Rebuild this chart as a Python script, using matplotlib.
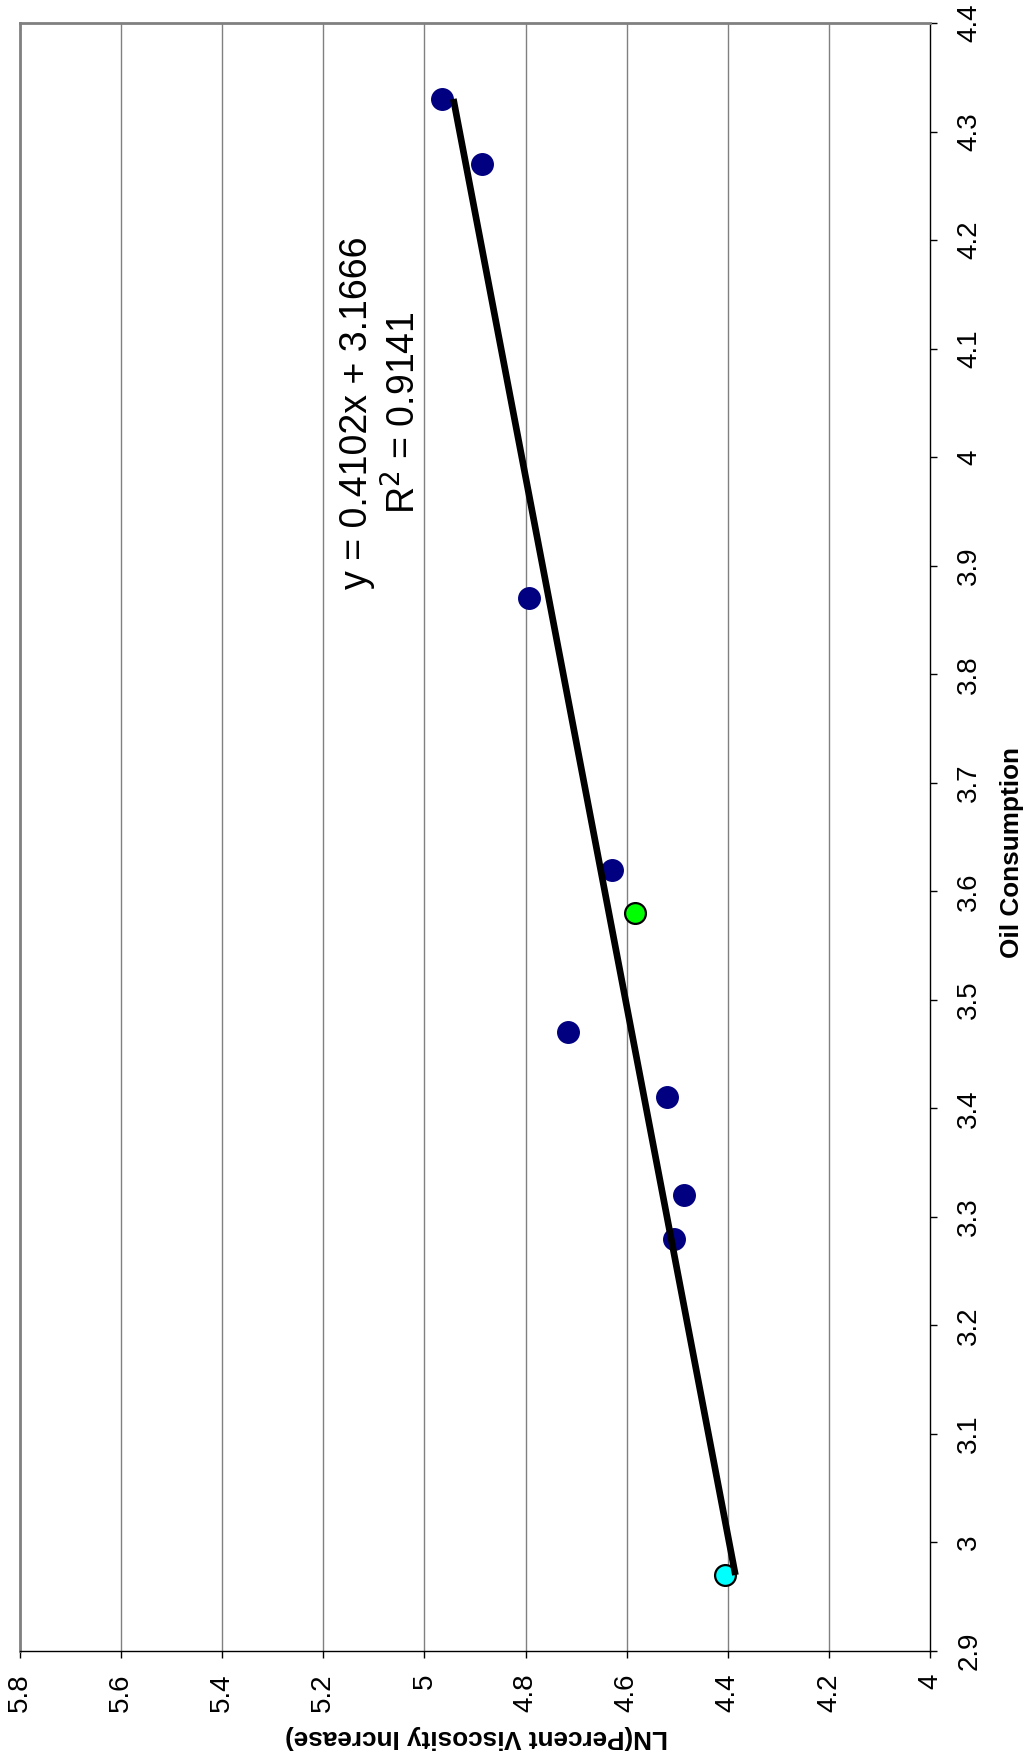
import matplotlib
matplotlib.use("Agg")
import matplotlib.pyplot as plt
import numpy as np

plt.rcParams['font.family'] = ['Liberation Sans', 'DejaVu Sans']

# oil consumption vs LN(percent viscosity increase)
oil = [4.33, 4.27, 3.87, 3.62, 3.47, 3.41, 3.32, 3.28]
ln_visc = [4.965, 4.887, 4.794, 4.630, 4.716, 4.521, 4.487, 4.507]

# the two highlighted runs
oil_low, ln_low = 2.97, 4.405
oil_mid, ln_mid = 3.58, 4.583

# linear fit
slope, intercept = 0.4102, 3.1666
r2 = 0.9141

ln_ticks = [4, 4.2, 4.4, 4.6, 4.8, 5, 5.2, 5.4, 5.6, 5.8]
oil_ticks = [2.9, 3, 3.1, 3.2, 3.3, 3.4, 3.5, 3.6, 3.7, 3.8, 3.9, 4, 4.1, 4.2, 4.3, 4.4]

W, H = 1028, 1759
fig = plt.figure(figsize=(W / 100, H / 100), dpi=100)
ax = fig.add_axes([20 / W, 1 - 1651 / H, 910 / W, 1628 / H])

# chart is laid on its side: oil runs up the page, LN runs right-to-left
for v in ln_ticks[1:]:
    ax.axvline(v, color='#808080', lw=1.0, zorder=1)

all_oil = oil + [oil_low, oil_mid]
xs = np.array([min(all_oil), max(all_oil)])
ax.plot(slope * xs + intercept, xs, color='black', lw=4.8,
        solid_capstyle='butt', zorder=4)

ax.plot(ln_visc, oil, 'o', ms=15.5, color='#000080', mec='#000080', zorder=3)
ax.plot([ln_low], [oil_low], 'o', ms=15, color='#00FFFF', mec='black', mew=1.6, zorder=3)
ax.plot([ln_mid], [oil_mid], 'o', ms=15, color='#00FF00', mec='black', mew=1.6, zorder=3)

ax.set_xlim(5.8, 4.0)
ax.set_ylim(2.9, 4.4)
ax.set_xticks(ln_ticks)
ax.set_xticklabels([f'{v:g}' for v in ln_ticks], rotation=90, fontsize=20)
ax.set_yticks(oil_ticks)
ax.set_yticklabels([f'{v:g}' for v in oil_ticks], rotation=90, fontsize=20, va='center')
ax.yaxis.tick_right()
ax.tick_params(axis='x', direction='out', length=5, width=1, pad=11, color='black')
ax.tick_params(axis='y', direction='out', length=5, width=1, pad=14, color='black')

for side in ('left', 'top'):
    ax.spines[side].set_color('#808080')
    ax.spines[side].set_linewidth(2.0)
for side in ('right', 'bottom'):
    ax.spines[side].set_color('black')
    ax.spines[side].set_linewidth(1.0)

ax.text(5.085, 4.041, f'y = {slope}x + {intercept}\nR$^2$ = {r2}', rotation=90,
        ha='center', va='center', multialignment='center', fontsize=27,
        linespacing=1.3, zorder=5)

fig.text(477 / W, 1 - 1737 / H, 'LN(Percent Viscosity Increase)', rotation=180,
         ha='center', va='center', fontsize=18.8, fontweight='bold')
fig.text(1012 / W, 1 - 853 / H, 'Oil Consumption', rotation=90,
         ha='center', va='center', fontsize=18.8, fontweight='bold')

fig.savefig('out.png', dpi=100)
